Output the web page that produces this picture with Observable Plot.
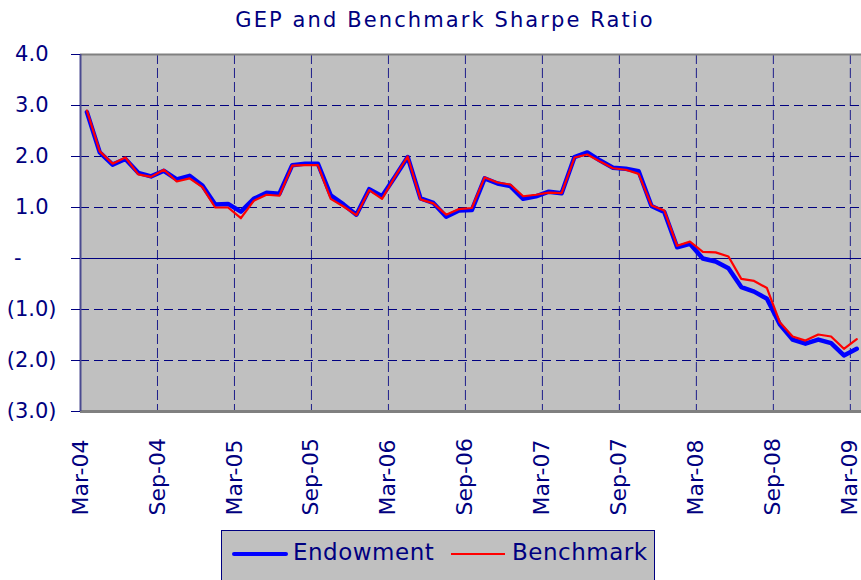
<!DOCTYPE html>
<html>
<head>
<meta charset="utf-8">
<script src="https://cdn.jsdelivr.net/npm/d3@7"></script>
<script src="https://cdn.jsdelivr.net/npm/@observablehq/plot@0.6"></script>
<style>
  html, body { margin: 0; padding: 0; background: #fff; }
  #wrap { position: relative; width: 861px; height: 580px; overflow: hidden; font-family: "DejaVu Sans", sans-serif; color: #000080; }
  #title { height: 44px; line-height: 40px; padding-left: 29px; text-align: center; font-size: 21px; letter-spacing: 2.1px; white-space: nowrap; }
  #legend { position: absolute; left: 221px; top: 530px; width: 434px; height: 60px; background: #c0c0c0; border: 1px solid #000080; box-sizing: border-box; }
  #legend .sw { position: absolute; }
  #legend .lb { position: absolute; font-size: 23px; line-height: 23px; letter-spacing: 0.5px; white-space: nowrap; }
</style>
</head>
<body>
<div id="wrap">
  <div id="title">GEP and Benchmark Sharpe Ratio</div>
  <div id="chart"></div>
  <div id="legend">
    <div class="sw" style="left:10px; top:21px; width:56px; height:4px; background:#0000ff; border-radius:2px;"></div>
    <div class="lb" style="left:71px; top:10px;">Endowment</div>
    <div class="sw" style="left:229px; top:22px; width:54px; height:2px; background:#ff0000;"></div>
    <div class="lb" style="left:290px; top:10px;">Benchmark</div>
  </div>
</div>
<script>
// Monthly Sharpe ratios, Mar-04 .. Mar-09 (61 months)
const endowment = [2.87, 2.08, 1.84, 1.95, 1.68, 1.61, 1.72, 1.55, 1.62, 1.43,
  1.06, 1.07, 0.92, 1.17, 1.29, 1.27, 1.83, 1.86, 1.86, 1.24,
  1.06, 0.86, 1.36, 1.22, 1.60, 1.99, 1.18, 1.09, 0.82, 0.94,
  0.95, 1.57, 1.47, 1.42, 1.17, 1.22, 1.31, 1.28, 1.99, 2.08,
  1.92, 1.78, 1.76, 1.71, 1.03, 0.91, 0.22, 0.29, 0.00, -0.06,
  -0.19, -0.56, -0.65, -0.79, -1.29, -1.59, -1.67, -1.59, -1.66, -1.90,
  -1.77];
const benchmark = [2.90, 2.10, 1.86, 1.98, 1.65, 1.60, 1.74, 1.51, 1.57, 1.40,
  1.00, 1.00, 0.79, 1.13, 1.25, 1.23, 1.82, 1.83, 1.83, 1.17,
  1.02, 0.85, 1.34, 1.17, 1.60, 2.00, 1.16, 1.08, 0.86, 0.97,
  0.99, 1.59, 1.49, 1.45, 1.22, 1.25, 1.29, 1.28, 1.98, 2.04,
  1.90, 1.77, 1.74, 1.66, 1.04, 0.94, 0.25, 0.33, 0.13, 0.12,
  0.04, -0.40, -0.44, -0.58, -1.25, -1.53, -1.61, -1.49, -1.53, -1.77,
  -1.58];
const xTickLabels = ["Mar-04", "Sep-04", "Mar-05", "Sep-05", "Mar-06", "Sep-06",
  "Mar-07", "Sep-07", "Mar-08", "Sep-08", "Mar-09"];
const yTicks = [4, 3, 2, 1, 0, -1, -2, -3];

const NAVY = "#000080";
// month index of each tick (every 6 months)
const xTicks = xTickLabels.map((_, i) => i * 6);
// points sit in the middle of each monthly category
const endoData = endowment.map((v, i) => ({m: i + 0.5, v}));
const benchData = benchmark.map((v, i) => ({m: i + 0.5, v}));
const gridY = yTicks.filter(d => d !== 0 && d !== 4 && d !== -3);
const gridX = xTicks.filter(d => d !== 0);

const chart = Plot.plot({
  width: 861,
  height: 480,
  marginLeft: 80,
  marginRight: 0,
  marginTop: 10,
  marginBottom: 113,
  style: {fontFamily: "DejaVu Sans, sans-serif", fontSize: "21px", color: NAVY, background: "transparent", overflow: "visible"},
  x: {domain: [0, 60.87], axis: null},
  y: {domain: [-3, 4], label: null},
  marks: [
    Plot.frame({fill: "#c0c0c0", stroke: null}),
    Plot.ruleY(gridY, {stroke: NAVY, strokeWidth: 1, strokeDasharray: "9,5"}),
    Plot.ruleX(gridX, {stroke: NAVY, strokeWidth: 1, strokeDasharray: "10,4", strokeOpacity: 0.85}),
    Plot.ruleY([0], {stroke: NAVY, strokeWidth: 1.2}),
    Plot.ruleY([4], {stroke: "#808080", strokeWidth: 2}),
    Plot.ruleY([-3], {stroke: "#808080", strokeWidth: 3}),
    Plot.ruleX([0], {stroke: "#4a4a90", strokeWidth: 2}),
    Plot.line(endoData, {x: "m", y: "v", stroke: "#0000ff", strokeWidth: 4.5, strokeLinejoin: "round", strokeLinecap: "round"}),
    Plot.line(benchData, {x: "m", y: "v", stroke: "#ff0000", strokeWidth: 2.2, strokeLinejoin: "round", strokeLinecap: "round"}),
    Plot.axisY({ticks: yTicks, tickSize: 9, tickPadding: 15, color: NAVY, label: null,
      tickFormat: d => d < 0 ? `(${(-d).toFixed(1)})` : ""}),
    Plot.axisY({ticks: yTicks.filter(d => d > 0), tickSize: 0, tickPadding: 32, color: NAVY, label: null,
      tickFormat: d => d.toFixed(1)}),
    Plot.axisY({ticks: [0], tickSize: 0, tickPadding: 59, color: NAVY, label: null, tickFormat: () => "-"}),
    Plot.text(xTicks, {x: d => d, frameAnchor: "bottom", dy: 104, rotate: -90,
      text: (d, i) => xTickLabels[i], textAnchor: "start", lineAnchor: "middle",
      fill: NAVY, fontSize: 22})
  ]
});
document.getElementById("chart").append(chart);
</script>
</body>
</html>
